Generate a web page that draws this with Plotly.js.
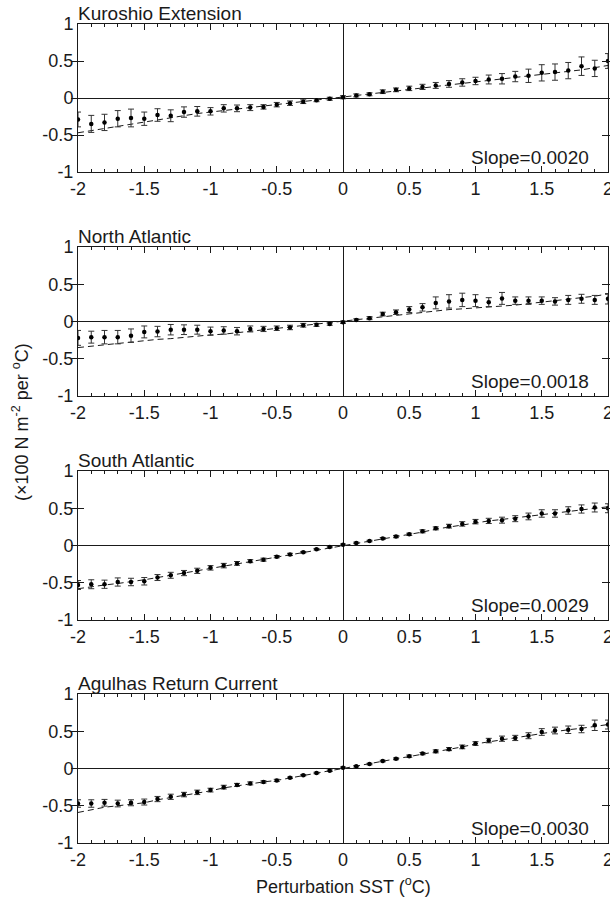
<!DOCTYPE html>
<html>
<head>
<meta charset="utf-8">
<script src="https://cdn.plot.ly/plotly-3.0.1.min.js"></script>
<style>html,body{margin:0;padding:0;background:#fff;}#chart{width:610px;height:899px;}</style>
</head>
<body>
<div id="chart"></div>
<script>
// Perturbation SST values (°C)
const sst = [-2,-1.9,-1.8,-1.7,-1.6,-1.5,-1.4,-1.3,-1.2,-1.1,-1.0,-0.9,-0.8,-0.7,-0.6,-0.5,-0.4,-0.3,-0.2,-0.1,0,
             0.1,0.2,0.3,0.4,0.5,0.6,0.7,0.8,0.9,1.0,1.1,1.2,1.3,1.4,1.5,1.6,1.7,1.8,1.9,2.0];

const panelNames = ["Kuroshio Extension","North Atlantic","South Atlantic","Agulhas Return Current"];
const slopeLabels = ["Slope=0.0020","Slope=0.0018","Slope=0.0029","Slope=0.0030"];

// Kuroshio Extension
const kuroMean = [-0.29,-0.35,-0.33,-0.28,-0.27,-0.28,-0.23,-0.24,-0.19,-0.18,-0.18,-0.14,-0.14,-0.13,-0.12,-0.09,-0.07,-0.05,-0.03,-0.01,0.01,
                  0.035,0.05,0.085,0.11,0.13,0.15,0.17,0.19,0.21,0.23,0.25,0.26,0.29,0.30,0.34,0.35,0.37,0.43,0.40,0.50];
const kuroErr  = [0.10,0.115,0.11,0.11,0.12,0.09,0.085,0.08,0.07,0.065,0.05,0.05,0.045,0.04,0.03,0.03,0.03,0.025,0.02,0.02,0.02,
                  0.02,0.02,0.025,0.025,0.03,0.035,0.04,0.045,0.05,0.05,0.06,0.07,0.07,0.09,0.11,0.11,0.11,0.125,0.11,0.10];
const kuroFit  = [-0.47,-0.44,-0.41,-0.38,-0.35,-0.32,-0.29,-0.26,-0.23,-0.21,-0.19,-0.17,-0.15,-0.13,-0.11,-0.09,-0.07,-0.05,-0.03,-0.01,0.01,
                  0.03,0.05,0.08,0.10,0.12,0.14,0.16,0.18,0.20,0.22,0.24,0.26,0.28,0.30,0.32,0.34,0.36,0.38,0.41,0.44];

// North Atlantic
const naMean = [-0.22,-0.21,-0.21,-0.21,-0.19,-0.14,-0.135,-0.11,-0.11,-0.11,-0.13,-0.12,-0.13,-0.10,-0.10,-0.09,-0.08,-0.05,-0.045,-0.035,-0.01,
                0.02,0.045,0.10,0.125,0.16,0.19,0.25,0.27,0.29,0.28,0.26,0.31,0.28,0.28,0.28,0.27,0.29,0.305,0.29,0.305];
const naErr  = [0.10,0.08,0.09,0.09,0.09,0.08,0.07,0.07,0.065,0.06,0.055,0.05,0.05,0.04,0.035,0.03,0.03,0.025,0.02,0.015,0.015,
                0.015,0.02,0.025,0.03,0.04,0.05,0.08,0.09,0.09,0.08,0.06,0.08,0.05,0.05,0.05,0.05,0.06,0.06,0.06,0.07];
const naFit  = [-0.35,-0.33,-0.31,-0.30,-0.28,-0.26,-0.24,-0.23,-0.21,-0.20,-0.18,-0.17,-0.15,-0.13,-0.12,-0.10,-0.08,-0.06,-0.04,-0.02,0.0,
                0.02,0.04,0.06,0.08,0.10,0.12,0.15,0.16,0.17,0.18,0.20,0.21,0.22,0.24,0.26,0.27,0.29,0.31,0.34,0.37];

// South Atlantic
const saMean = [-0.53,-0.52,-0.52,-0.49,-0.49,-0.48,-0.43,-0.40,-0.37,-0.34,-0.30,-0.27,-0.24,-0.21,-0.19,-0.15,-0.12,-0.09,-0.05,-0.02,0.01,
                0.035,0.06,0.095,0.12,0.15,0.19,0.23,0.26,0.29,0.32,0.33,0.34,0.36,0.39,0.43,0.43,0.47,0.49,0.51,0.50];
const saErr  = [0.06,0.06,0.055,0.055,0.05,0.05,0.04,0.04,0.035,0.035,0.03,0.03,0.025,0.02,0.02,0.015,0.015,0.01,0.01,0.01,0.01,
                0.01,0.01,0.012,0.015,0.015,0.02,0.02,0.025,0.03,0.03,0.035,0.04,0.04,0.045,0.05,0.05,0.05,0.055,0.06,0.06];
const saFit  = [-0.58,-0.55,-0.53,-0.51,-0.49,-0.46,-0.43,-0.40,-0.37,-0.34,-0.31,-0.28,-0.25,-0.22,-0.19,-0.16,-0.13,-0.10,-0.06,-0.03,0.0,
                0.03,0.06,0.09,0.12,0.15,0.18,0.22,0.25,0.28,0.30,0.33,0.35,0.37,0.40,0.42,0.44,0.46,0.48,0.50,0.52];

// Agulhas Return Current
const agMean = [-0.47,-0.47,-0.46,-0.47,-0.46,-0.45,-0.41,-0.38,-0.35,-0.32,-0.29,-0.25,-0.22,-0.20,-0.18,-0.16,-0.125,-0.09,-0.06,-0.03,0.01,
                0.03,0.06,0.10,0.13,0.165,0.20,0.23,0.26,0.29,0.335,0.375,0.40,0.41,0.44,0.49,0.51,0.52,0.53,0.58,0.59];
const agErr  = [0.05,0.05,0.045,0.045,0.04,0.04,0.035,0.035,0.03,0.03,0.025,0.025,0.02,0.02,0.015,0.015,0.01,0.01,0.01,0.01,0.01,
                0.01,0.01,0.01,0.012,0.015,0.015,0.02,0.02,0.025,0.025,0.03,0.035,0.035,0.04,0.045,0.045,0.05,0.05,0.07,0.06];
const agFit  = [-0.59,-0.55,-0.52,-0.50,-0.48,-0.46,-0.42,-0.39,-0.36,-0.33,-0.30,-0.26,-0.23,-0.21,-0.18,-0.16,-0.13,-0.10,-0.07,-0.03,0.0,
                0.03,0.06,0.10,0.13,0.16,0.19,0.23,0.26,0.29,0.33,0.36,0.39,0.41,0.44,0.47,0.50,0.52,0.54,0.57,0.59];

const xTickVals = [-2,-1.5,-1,-0.5,0,0.5,1,1.5,2];
const xTickText = ["-2","-1.5","-1","-0.5","0","0.5","1","1.5","2"];
const yTickVals = [-1,-0.5,0,0.5,1];
const yTickText = ["-1","-0.5","0","0.5","1"];

const means = [kuroMean, naMean, saMean, agMean];
const errs  = [kuroErr, naErr, saErr, agErr];
const fits  = [kuroFit, naFit, saFit, agFit];

const FONT = "Liberation Sans, Arial, Helvetica, sans-serif";
const INK = "#1a1a1a";
const FS = 18;
const FA = 19;

// pixel layout: plot box x 78..608, panels (px top,bottom)
const W = 610, H = 899, mL = 78, mR = 2, mT = 24, mB = 56;
const panelPx = [[24,172],[247,396],[471,620],[694,843]];
const plotH = H - mT - mB;
const dom = panelPx.map(p => [(H - mB - p[1]) / plotH, (H - mB - p[0]) / plotH]);

const data = [];
const layout = {
  width: W, height: H,
  margin: {l: mL, r: mR, t: mT, b: mB},
  paper_bgcolor: "#fff", plot_bgcolor: "#fff",
  showlegend: false,
  font: {family: FONT, size: FS, color: INK},
  annotations: []
};

for (let i = 0; i < 4; i++) {
  const s = i === 0 ? "" : String(i + 1);
  const xa = "x" + s, ya = "y" + s;
  const topS = String(i + 5);
  data.push({
    x: sst, y: fits[i], xaxis: xa, yaxis: ya, type: "scatter", mode: "lines",
    line: {color: INK, width: 1, dash: "6px,4px"}, hoverinfo: "skip"
  });
  data.push({
    x: sst, y: means[i], xaxis: xa, yaxis: ya, type: "scatter", mode: "markers",
    marker: {color: "#000", size: 4.5},
    error_y: {type: "data", array: errs[i], visible: true, color: "#333", thickness: 1, width: 3}
  });
  // empty trace so the top (mirror) axis with minor ticks is drawn
  data.push({x: [], y: [], xaxis: "x" + topS, yaxis: ya, type: "scatter", mode: "markers", hoverinfo: "skip"});

  const xCommon = {
    range: [-2, 2],
    tickmode: "array", tickvals: xTickVals,
    ticks: "inside", ticklen: 6, tickcolor: INK, tickwidth: 1,
    minor: {dtick: 0.1, tick0: 0, ticks: "inside", ticklen: 3, tickcolor: INK, tickwidth: 1, showgrid: false},
    showgrid: false, fixedrange: true
  };
  layout["xaxis" + s] = Object.assign({}, xCommon, {
    domain: [0, 1], anchor: ya, ticktext: xTickText,
    showline: true, linecolor: INK, linewidth: 1, mirror: "allticks",
    zeroline: true, zerolinecolor: INK, zerolinewidth: 1,
    ticklabeloverflow: "allow",
    tickfont: {family: FONT, size: FS, color: INK}
  });
  layout["xaxis" + topS] = Object.assign({}, xCommon, {
    overlaying: xa, anchor: ya, side: "top", showticklabels: false,
    showline: false, zeroline: false
  });
  layout["yaxis" + s] = {
    domain: dom[i], anchor: xa, range: [-1, 1],
    tickmode: "array", tickvals: yTickVals, ticktext: yTickText,
    ticks: "inside", ticklen: 6, tickcolor: INK, tickwidth: 1,
    showline: true, linecolor: INK, linewidth: 1, mirror: "allticks",
    showgrid: false, zeroline: true, zerolinecolor: INK, zerolinewidth: 1,
    ticklabeloverflow: "allow",
    tickfont: {family: FONT, size: FS, color: INK}, fixedrange: true
  };
  layout.annotations.push({
    text: panelNames[i], xref: xa + " domain", yref: ya + " domain",
    x: 0, y: 1, xanchor: "left", yanchor: "bottom", yshift: -2, xshift: -2,
    showarrow: false, font: {family: FONT, size: FA, color: INK}
  });
  layout.annotations.push({
    text: slopeLabels[i], xref: xa + " domain", yref: ya + " domain",
    x: 0.968, y: 0.0, xanchor: "right", yanchor: "bottom", yshift: 2, xshift: 0,
    showarrow: false, font: {family: FONT, size: FA, color: INK}
  });
}

layout.annotations.push({
  text: "(\u00d7100 N m<sup>-2</sup> per <sup>o</sup>C)", xref: "paper", yref: "paper",
  x: (20 - mL) / (W - mL - mR), y: (H - mB - 422) / plotH, xanchor: "center", yanchor: "middle",
  textangle: -90, showarrow: false, font: {family: FONT, size: FS, color: INK}
});
layout.annotations.push({
  text: "Perturbation SST (<sup>o</sup>C)", xref: "paper", yref: "paper",
  x: 0.5, y: (H - mB - 885) / plotH, xanchor: "center", yanchor: "middle",
  showarrow: false, font: {family: FONT, size: FS, color: INK}
});

Plotly.newPlot("chart", data, layout, {displayModeBar: false, staticPlot: true});
</script>
</body>
</html>
